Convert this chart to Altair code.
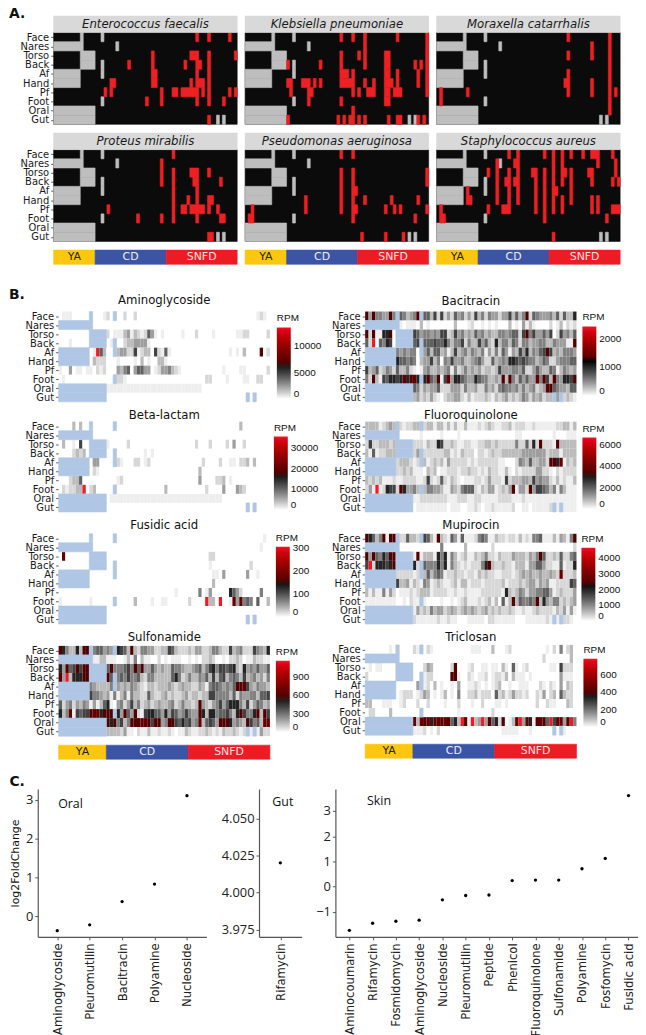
import altair as alt
import pandas as pd

ROWS = ["Face", "Nares", "Torso", "Back", "Af", "Hand", "Pf", "Foot", "Oral", "Gut"]
NCOL = 62
GROUP_NAMES = ["YA", "CD", "SNFD"]
GROUP_SPANS = [(0, 14), (14, 38), (38, 62)]
GROUP_COLORS = ["#FDC60F", "#3B54A5", "#ED1C24"]
GROUP_TEXT = ["#222222", "#E8ECF6", "#FBE3E3"]

R09 = list(range(9))
R10 = list(range(10))
R14 = list(range(14))
NA_CELLS = {
    "Face": [9, 16], "Nares": R10, "Torso": [9, 10, 11, 12, 13],
    "Back": [9, 10, 11, 12, 13, 16], "Af": R09 + [16], "Hand": R09,
    "Pf": [], "Foot": [16], "Oral": R14, "Gut": R14 + [55, 57],
}

SPECIES = {
    "Enterococcus faecalis": {
        "Face": [48, 52, 59], "Torso": [33, 46, 47, 48, 52, 61],
        "Back": [25, 33, 44, 48, 49, 52], "Af": [33, 34, 48, 52],
        "Hand": [19, 20, 33, 34, 46, 48, 49, 50, 52],
        "Pf": [17, 19, 36, 40, 41, 43, 44, 45, 46, 47, 48, 50, 52, 59, 61],
        "Foot": [31, 36, 48, 52, 57], "Gut": [52]},
    "Klebsiella pneumoniae": {
        "Face": [32, 36, 40, 51, 61], "Nares": [40, 61],
        "Torso": [32, 38, 40, 47, 48, 61],
        "Back": [14, 25, 32, 40, 47, 48, 57, 59, 61],
        "Af": [32, 33, 34, 36, 47, 48, 51, 58, 61],
        "Hand": [14, 15, 19, 20, 21, 23, 25, 32, 33, 34, 35, 36, 40, 43, 47, 48, 49, 51, 58, 61],
        "Pf": [15, 21, 22, 36, 38, 41, 42, 43, 47, 48, 50, 51, 52, 61],
        "Foot": [21, 32, 47, 48], "Oral": [36],
        "Gut": [14, 31, 33, 35, 36, 38, 40, 48, 51, 52, 58, 60]},
    "Moraxella catarrhalis": {
        "Face": [44, 58], "Nares": [52, 58], "Torso": [44, 52, 58], "Back": [58],
        "Af": [44, 58], "Hand": [43, 44, 52, 58], "Pf": [1, 10, 44, 52, 58, 60],
        "Foot": [1, 58], "Oral": [58]},
    "Proteus mirabilis": {
        "Face": [40], "Nares": [36], "Torso": [36, 40, 46, 47, 48, 52],
        "Back": [36, 40, 47, 48, 56], "Af": [40, 48], "Hand": [40, 45, 48, 52, 53],
        "Pf": [18, 40, 43, 44, 46, 47, 48, 49, 50, 52, 55],
        "Foot": [28, 36, 40, 48, 56, 57], "Gut": [52, 53]},
    "Pseudomonas aeruginosa": {
        "Face": [32, 36], "Torso": [32, 36, 61], "Back": [32, 36, 61], "Af": [32, 36, 37],
        "Hand": [20, 32, 36, 40, 49, 58], "Pf": [2, 20, 32, 36, 37, 47, 50, 52, 61],
        "Foot": [1, 2, 36, 57], "Gut": [39, 47, 53]},
    "Staphylococcus aureus": {
        "Face": [24, 27, 36, 39, 42, 45, 49, 52, 53, 54, 59],
        "Nares": [20, 26, 27, 39, 42, 54, 60],
        "Torso": [17, 20, 24, 27, 32, 33, 36, 39, 42, 43, 45, 51, 52, 60],
        "Back": [20, 23, 24, 26, 27, 33, 36, 39, 42, 45, 52, 59, 61],
        "Af": [10, 20, 24, 27, 33, 36, 39, 40, 45],
        "Hand": [10, 11, 20, 24, 27, 33, 36, 39, 42, 45, 52, 54],
        "Pf": [1, 17, 22, 23, 24, 33, 36, 39, 42, 52, 54, 59, 60, 61],
        "Foot": [1, 2, 36, 57], "Gut": [39]},
}
A_EXTRA_NA = {"Nares": [21]}

# Colour level of each cell, per row, left to right (0 white .. 9 black, r dark red, R red)
AMINO = [
    "0111000001 0001201002 0020000000 0000000000 0000000000 0000000012 10",
    "0000000000 0000000000 0000000000 0000000000 0000000000 0000000000 00",
    "0000000000 0000201113 4132126410 1000001000 2000010000 0011220000 02",
    "0001000000 0000012002 3344441000 0000000000 0000000000 0000000000 00",
    "0000000000 1R63000344 2271233072 1610000000 0000000000 1010300009 02",
    "0000000000 3222000100 0010301003 3100000000 0000000000 0000000000 00",
    "1004011011 0212000435 6046644012 4453210000 0000000010 0001100000 02",
    "0100000000 0000000221 0000000000 0000000000 0002200001 0000110022 00",
    "0000000000 0000111111 1111111111 1111111111 1100000000 0000000000 00",
    "0000000000 0000000000 0000000000 0000000000 0000000000 0000000000 00",
]
BETA = [
    "0000303000 0000000000 0000000000 0000000000 0000000000 0003000000 00",
    "0000000000 0000000000 0000000000 0000000000 0000000000 0000000000 00",
    "0300107000 0000100000 2000000000 0000000000 2000200002 0400200000 00",
    "0000232300 0000000000 0000010100 0000000000 0000000000 0000000000 00",
    "0000000000 4400000210 0022012000 0000000000 0020000200 1102230300 00",
    "0000000000 2100000000 0000000000 0000000000 0300000000 0000000000 00",
    "0002336000 0000000120 0000000000 0000000000 0400002230 1000000000 00",
    "0212233R02 3000000000 0000000000 0300000000 0002000040 0043200000 00",
    "0000000000 0000011111 1111111111 1111111111 1111111100 0000000000 00",
    "0000000000 0000000000 0000000000 0000000000 0000000000 0000000000 00",
]
FUSIDIC = [
    "0000000000 0000000000 0000000000 0000000000 0000000000 0000000000 10",
    "0000000000 0000000000 0000000000 0000000000 0000000000 0000000001 00",
    "0r00000000 0000000000 0000000000 0000000000 0000220000 0000000000 00",
    "0000000000 0000000000 0000000000 0000000000 0000100000 0000002000 00",
    "0000000000 0000000000 0000000000 0000000000 0000011040 0000040010 00",
    "0000000000 0000000000 0000000000 0000000000 0000030000 0000000000 00",
    "0000000000 0000000000 0000000000 0000100000 0501400000 8642000005 00",
    "1000000001 0000000000 0030000100 1100000020 000R330R00 1r4r565060 03",
    "0000000000 0000000000 0000000000 0000000000 0000000000 0000000000 00",
    "0000000000 0000000000 0000000000 0000000000 0000000000 0000000000 00",
]
SULFON = [
    "9853383993 5664548876 3932554422 3376322232 4422355322 7345222754 38",
    "0000000000 1133111001 3150311002 0101110010 1022320010 2232011322 11",
    "8496797990 0000695556 7596944643 4336554334 5635785776 7832845464 46",
    "94R3888990 0000968565 7556325533 3336852353 3546373673 5653734534 25",
    "0000000005 4333352434 3543213323 3343234332 2431566545 4699r74354 43",
    "0000000007 5543415135 1533226322 3423223423 3233775555 3625445536 67",
    "6245243541 4136810452 4735234234 3345235332 3943245746 8885372465 34",
    "835r176779 rr89990849 6492178866 4847645754 4983885667 5389755893 97",
    "0000000000 0000989573 5999rr9799 4599768674 5r36764999 8454397563 rr",
    "0000000000 0000333324 1102113112 1121011321 1223212132 2321221214 22",
]
BACI = [
    "9495544954 6534597663 7272426452 4273525442 4473635926 5444536263 38",
    "0000000000 1011103010 0000003000 1200101010 0030104131 0000201302 12",
    "9291188900 0000764554 5477237453 4364534335 5456627957 4464702745 36",
    "62R0658700 0000675666 7668535572 5337463283 5536525534 4553354441 19",
    "0000000005 4545505463 6634137345 3543514252 6414374835 4679734355 54",
    "0000000008 6656503447 3505474453 3456422634 5488767655 3465224555 66",
    "7346235426 3352101453 3434515235 3434233237 4445546224 6433651354 34",
    "5293176887 8r89r88896 5917r48865 4486553343 9395364644 r597395488 79",
    "0000000000 0000652434 4622244425 3342253425 6554535345 234r965443 66",
    "0000000000 0000342324 2102334421 3122232132 3423235424 3423344323 21",
]
FLUORO = [
    "3333123433 2122333233 1331313113 1112123211 2231222112 1111112233 13",
    "0000000000 0000001000 0010000100 0000000000 0000110000 0000010001 11",
    "2722333232 1111222132 2872232112 2112233232 2222522628 2922219333 33",
    "3161223332 1112242222 2223312132 2202212322 3333334444 4442333133 33",
    "0000000002 3332122312 3231422222 1212222221 1000254363 3442998r13 23",
    "0000000002 2323111032 3011222122 3221213221 1310212222 4422102122 22",
    "3232311121 1222211272 1262132101 1122124222 1723334437 4544213121 13",
    "241R128772 9844533355 4431143256 6621324412 3249144294 7765351531 11",
    "0000000000 0000112222 2222111222 1122111112 2221112111 1111111111 11",
    "0000000000 0000011111 1111011100 1121011211 1112001101 1111221211 11",
]
MUPI = [
    "9863591993 2263325763 1932164161 1125651132 2122131215 5611131431 59",
    "0000000000 0000000000 0050000003 0000000200 0000000000 0000000000 02",
    "9496586990 0000191333 1858153123 1132352213 2224333243 5962232622 56",
    "7R28887890 0000824655 5858153212 1222589322 3221333144 6642211612 28",
    "0000000002 2222123363 5651223221 2213232211 2221234343 3433432r22 23",
    "0000000007 3341321541 2321123133 1222122222 3122232344 2434112222 76",
    "3131151420 1112123331 2222112112 1111222222 1832354244 5566412322 24",
    "1111111110 0102111100 0010010123 1112123130 6139365565 9384355232 34",
    "0000000000 0000142325 3442343234 3432342323 2232112112 3222213241 41",
    "0000000000 0000211111 1211211000 1111102211 1111000111 1112111222 10",
]
TRICLO = [
    "0000000100 0000211021 0000000000 0111000300 0120000000 0001020502 30",
    "0000000000 0000000000 0000000000 0000000000 0000000000 0020000000 30",
    "0101100000 0000000243 0000029000 1200110110 3106101200 0000110722 20",
    "2000000000 0000000122 0000099100 2101120122 1303111010 0000000411 10",
    "2000000000 0000040120 3010010400 1121010123 0010011100 0210210403 20",
    "3000000000 1222012430 1013010500 2231222062 3124221200 2140230632 20",
    "3300011100 1200020020 0001000200 0100200011 0100000000 2002110003 20",
    "0220000300 0000000000 0000000100 0000000200 0000000000 0000000000 00",
    "0000000000 0000r3r9r8 rrrr9683R9 1R34R49682 9013rR4r81 9r96R7rr49 R5",
    "0000000000 0000111201 0200000000 0000000000 1111100010 0000000010 00",
]

PANELS_B_LEFT = [
    ("Aminoglycoside", AMINO, 13590, [0, 5000, 10000], 220, 2, 72, -12),
    ("Beta-lactam", BETA, 35600, [0, 10000, 20000, 30000], 217, 1, 74, -7),
    ("Fusidic acid", FUSIDIC, 305, [0, 100, 200, 300], 219, -1, 71, -9),
    ("Sulfonamide", SULFON, 1160, [0, 300, 600, 900], 219, 1, 72, -9),
]
PANELS_B_RIGHT = [
    ("Bacitracin", BACI, 2430, [0, 500, 1000, 1500, 2000], 219, 1, 70, -11),
    ("Fluoroquinolone", FLUORO, 6720, [0, 2000, 4000, 6000], 219, 2, 72, -7),
    ("Mupirocin", MUPI, 4660, [0, 1000, 2000, 3000, 4000], 218, 0, 74, -9),
    ("Triclosan", TRICLO, 785, [0, 200, 400, 600], 220, 0, 69, -8),
]

ORAL_NAMES = ["Aminoglycoside", "Pleuromutilin", "Bacitracin", "Polyamine", "Nucleoside"]
ORAL_VALUES = [-0.37, -0.22, 0.38, 0.83, 3.11]
GUT_NAMES = ["Rifamycin"]
GUT_VALUES = [4.020]
SKIN_NAMES = ["Aminocoumarin", "Rifamycin", "Fosmidomycin", "Aminoglycoside", "Nucleoside",
              "Pleuromutilin", "Peptide", "Phenicol", "Fluoroquinolone", "Sulfonamide",
              "Polyamine", "Fosfomycin", "Fusidic acid"]
SKIN_VALUES = [-1.73, -1.45, -1.37, -1.33, -0.52, -0.35, -0.33, 0.24, 0.26, 0.26, 0.71, 1.12, 3.61]

LEVEL = {"0": 0, "1": .06, "2": .14, "3": .24, "4": .35, "5": .46, "6": .59, "7": .72, "8": .86, "9": 1}
FONT = "DejaVu Sans"
LABEL_EXPR = "['Gut','Oral','Foot','Pf','Hand','Af','Back','Torso','Nares','Face'][floor(datum.value)]"
XS = alt.Scale(domain=[0, NCOL], nice=False, zero=False)
A_EXT = 45
B_EXT = 50


def cells(row_cols):
    recs = []
    for name, cols in row_cols.items():
        r = 9 - ROWS.index(name)
        run = None
        for c in sorted(cols):
            if run and run["x1"] == c:
                run["x1"] = c + 1
            else:
                run = {"x0": c, "x1": c + 1, "y0": r, "y1": r + 1}
                recs.append(run)
    return pd.DataFrame(recs, columns=["x0", "x1", "y0", "y1"])


def yaxis(extent):
    if extent is None:
        return None
    return alt.Axis(values=[i + .5 for i in range(10)], labelExpr=LABEL_EXPR, title=None, grid=False,
                    domain=False, tickSize=3, tickColor="#333333", tickWidth=0.8, labelPadding=2,
                    labelFontSize=10, labelColor="#1a1a1a", labelOverlap=False, labelFont=FONT,
                    minExtent=extent, maxExtent=extent)


def rects(df, color, ys, ya):
    return alt.Chart(df).mark_rect(color=color, strokeWidth=0.6, stroke=color).encode(
        x=alt.X("x0:Q", scale=XS, axis=None), x2="x1:Q",
        y=alt.Y("y0:Q", scale=ys, axis=ya), y2="y1:Q")


def bar_layers(ys, ya, y0, y1, size):
    out = []
    for (a, b), name, col, tc in zip(GROUP_SPANS, GROUP_NAMES, GROUP_COLORS, GROUP_TEXT):
        df = pd.DataFrame([{"x0": a, "x1": b, "y0": y0, "y1": y1, "xm": (a + b) / 2, "ym": (y0 + y1) / 2, "t": name}])
        out.append(rects(df, col, ys, ya))
        out.append(alt.Chart(df).mark_text(fontSize=size, color=tc, font=FONT).encode(
            x=alt.X("xm:Q", scale=XS, axis=None), y=alt.Y("ym:Q", scale=ys, axis=ya), text="t:N"))
    return out


def label(text, x, y):
    return alt.Chart(pd.DataFrame({"a": [0]})).mark_text(
        text=text, fontSize=14, fontWeight="bold", align="left", color="#111111", font=FONT
    ).encode(x=alt.value(x), y=alt.value(y))


def spacer():
    return alt.Chart(pd.DataFrame({"a": [0]})).mark_point(opacity=0).encode(
        x=alt.value(0), y=alt.value(0)).properties(width=1, height=1)


def panel_a(name, axis_on, with_bar=False, tag=None):
    reds = SPECIES[name]
    unit = 9.25
    low = -2.5 if with_bar else 0
    ys = alt.Scale(domain=[low, 11.8], nice=False, zero=False)
    ya = yaxis(A_EXT if axis_on else None)
    na = dict(NA_CELLS)
    na["Nares"] = NA_CELLS["Nares"] + A_EXTRA_NA["Nares"]
    bg = pd.DataFrame([{"x0": 0, "x1": NCOL, "y0": 0, "y1": 10}])
    strip = pd.DataFrame([{"x0": 0, "x1": NCOL, "y0": 10, "y1": 11.8, "xm": NCOL / 2, "ym": 10.9, "t": name}])
    layers = [rects(bg, "#0B0B0B", ys, ya),
              rects(cells(na), "#BEBEBE", ys, ya),
              rects(cells(reds), "#ED2024", ys, ya),
              rects(strip, "#D9D9D9", ys, ya),
              alt.Chart(strip).mark_text(fontSize=11.8, fontStyle="italic", color="#1a1a1a", font=FONT).encode(
                  x=alt.X("xm:Q", scale=XS, axis=None), y=alt.Y("ym:Q", scale=ys, axis=ya), text="t:N")]
    if with_bar:
        layers += bar_layers(ys, ya, low, -0.95, 11)
    if tag:
        layers.append(label(tag, -A_EXT, -2))
    return alt.layer(*layers).properties(width=185, height=(11.8 - low) * unit)


def panel_b(spec, extent, with_bar=False, tag=None):
    title, rows, vmax, ticks, lx, ly, ll, title_y = spec
    mid = vmax * 0.5
    recs = []
    for i, (name, s) in enumerate(zip(ROWS, rows)):
        s = (s.replace(" ", "") + "0" * NCOL)[:NCOL]
        for c, ch in enumerate(s):
            if c in NA_CELLS[name]:
                continue
            v = vmax if ch == "R" else mid + .15 * (vmax - mid) if ch == "r" else LEVEL[ch] * mid
            recs.append({"x0": c, "x1": c + 1, "y0": 9 - i, "y1": 10 - i, "v": v})
    df = pd.DataFrame(recs)
    unit = 9.1
    low = -2.55 if with_bar else 0
    ys = alt.Scale(domain=[low, 10], nice=False, zero=False)
    ya = yaxis(extent)
    cs = alt.Scale(domain=[0, mid, vmax], range=["#FFFFFF", "#000000", "#ED1C24"])
    legend = alt.Legend(title="RPM", orient="none", legendX=lx, legendY=ly, gradientLength=ll,
                        gradientThickness=14, values=ticks, titleFontSize=10, labelFontSize=10, format="d",
                        titleFont="Liberation Sans", labelFont="Liberation Sans", titleFontWeight="normal",
                        titlePadding=4, labelOffset=3, titleColor="#111111", labelColor="#111111")
    heat = alt.Chart(df).mark_rect().encode(
        x=alt.X("x0:Q", scale=XS, axis=None), x2="x1:Q",
        y=alt.Y("y0:Q", scale=ys, axis=ya), y2="y1:Q",
        fill=alt.Fill("v:Q", scale=cs, legend=legend))
    layers = [heat, rects(cells(NA_CELLS), "#AFC6E5", ys, ya)]
    head = pd.DataFrame({"xm": [NCOL / 2], "t": [title]})
    layers.append(alt.Chart(head).mark_text(fontSize=11.8, color="#111111", font=FONT).encode(
        x=alt.X("xm:Q", scale=XS, axis=None), y=alt.value(title_y), text="t:N"))
    if with_bar:
        layers += bar_layers(ys, ya, low, -1.0, 11)
    if tag:
        layers.append(label(tag, -extent, -17))
    return alt.layer(*layers).properties(width=213, height=(10 - low) * unit)


def scatter(names, values, domain, ticks, width, note, note_x, note_y, ytitle=None, extent=None, tag=None, fmt=None, padding=0.6):
    df = pd.DataFrame({"n": names, "v": values})
    ax = dict(values=ticks, grid=False, title=ytitle, tickSize=3, tickColor="#555555", domainColor="#555555",
              domainWidth=1.2, labelFont="Open Sans", labelFontSize=13, labelColor="#222222",
              titleFont=FONT, titleFontSize=11, titleFontWeight="normal", titleColor="#111111", titlePadding=2)
    if extent:
        ax.update(minExtent=extent, maxExtent=extent)
    if fmt:
        ax["format"] = fmt
    pts = alt.Chart(df).mark_circle(size=11, color="#000000", opacity=1).encode(
        x=alt.X("n:N", sort=names, scale=alt.Scale(type="point", padding=padding),
                axis=alt.Axis(title=None, labelAngle=270, grid=False, tickSize=3, tickColor="#555555",
                              domainColor="#555555", domainWidth=1.2, labelFont=FONT, labelFontSize=11.7,
                              labelColor="#222222", labelPadding=3, labelLimit=200)),
        y=alt.Y("v:Q", scale=alt.Scale(domain=domain, nice=False, zero=False), axis=alt.Axis(**ax)))
    txt = alt.Chart(pd.DataFrame({"a": [0]})).mark_text(
        text=note, font="Open Sans", fontSize=12.5, color="#111111"
    ).encode(x=alt.value(note_x), y=alt.value(note_y))
    layers = [pts, txt]
    if tag:
        layers.append(label(tag, -28.6, -7))
    return alt.layer(*layers).properties(width=width, height=149)


def indep(c):
    return c.resolve_scale(fill="independent").resolve_legend(fill="independent")


names = list(SPECIES)
row1 = alt.hconcat(panel_a(names[0], True, tag="A."), panel_a(names[1], False), panel_a(names[2], False), spacing=6)
row2 = alt.hconcat(panel_a(names[3], True, True), panel_a(names[4], False, True), panel_a(names[5], False, True), spacing=6)
block_a = alt.hconcat(spacer(), alt.vconcat(row1, row2, spacing=7), spacing=0)

left = indep(alt.vconcat(*[panel_b(s, B_EXT, with_bar=(i == 3), tag="B." if i == 0 else None)
                           for i, s in enumerate(PANELS_B_LEFT)], spacing=7))
right = indep(alt.vconcat(*[panel_b(s, 42, with_bar=(i == 3))
                            for i, s in enumerate(PANELS_B_RIGHT)], spacing=7))
block_b = indep(alt.hconcat(spacer(), indep(alt.hconcat(left, right, spacing=2)), spacing=0))

oral = scatter(ORAL_NAMES, ORAL_VALUES, [-0.53, 3.28], [0, 1, 2, 3], 170, "Oral", 33, 15,
               ytitle="log2FoldChange", extent=15, tag="C.")
gut = scatter(GUT_NAMES, GUT_VALUES, [3.970, 4.0698], [3.975, 4.0, 4.025, 4.05], 43, "Gut", 24, 13,
              extent=39, fmt=".3f")
skin = scatter(SKIN_NAMES, SKIN_VALUES, [-1.99, 3.87], [-1, 0, 1, 2, 3], 309.5, "Skin", 44, 12, extent=18)
block_c = alt.hconcat(spacer(), alt.hconcat(oral, gut, skin, spacing=14), spacing=0)

chart = indep(alt.vconcat(block_a, indep(alt.vconcat(block_b, block_c, spacing=15.3)), spacing=22.85)).properties(
    padding={"left": -5, "top": -5, "right": -5, "bottom": 0}).configure(font=FONT).configure_view(stroke=None)

chart.save("out.html", embed_options={"renderer": "svg", "actions": False})
